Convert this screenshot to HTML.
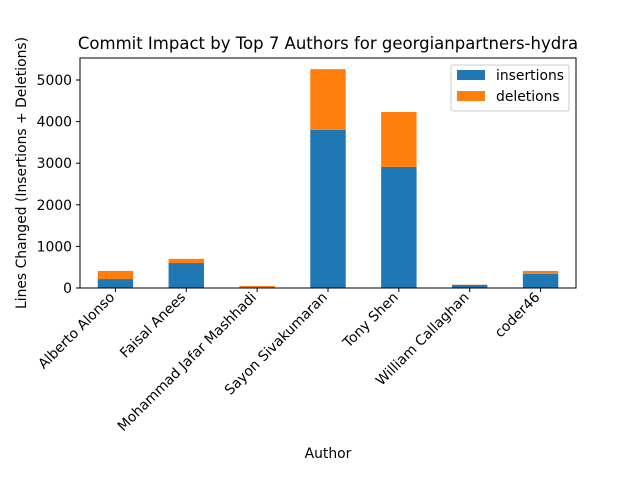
<!DOCTYPE html>
<html><head><meta charset="utf-8"><style>body{margin:0;background:#fff}svg{font-family:"DejaVu Sans","Liberation Sans",sans-serif}</style></head>
<body>
<svg id="c" width="640" height="480" style="position:absolute;left:0;top:0"></svg>
<script>
const categories=["Alberto Alonso","Faisal Anees","Mohammad Jafar Mashhadi","Sayon Sivakumaran","Tony Shen","William Callaghan","coder46"];
const insertions=[215,600,20,3800,2910,75,340];
const deletions=[195,100,30,1460,1320,5,70];
const yTicks=[0,1000,2000,3000,4000,5000];
const NS="http://www.w3.org/2000/svg";
const svg=document.getElementById('c');
const L=80,R=576,T=58,B=288;
const band=(R-L)/categories.length, bw=band*0.5;
const x=i=>L+band*(i+0.5);
const y=v=>B-v*(B-80)/5000;
function el(t,a,p){const e=document.createElementNS(NS,t);for(const k in a)e.setAttribute(k,a[k]);(p||svg).appendChild(e);return e;}
categories.forEach((c,i)=>{
 const r1=el('rect',{x:x(i)-bw/2,y:y(insertions[i]),width:bw,height:B-y(insertions[i]),fill:'#1f77b4'});
 
 
 const r2=el('rect',{x:x(i)-bw/2,y:y(insertions[i]+deletions[i]),width:bw,height:y(insertions[i])-y(insertions[i]+deletions[i]),fill:'#ff7f0e'});
 
 
 el('line',{x1:x(i),x2:x(i),y1:B,y2:B+4,stroke:'#000'});
 const t=el('text',{x:0,y:0,'font-size':13.9,'text-anchor':'end',transform:`translate(${x(i)},${B+10}) rotate(-45)`});
 t.textContent=c;
 
 
});
yTicks.forEach(v=>{
 el('line',{x1:L-4,x2:L,y1:y(v),y2:y(v),stroke:'#000'});
 const t=el('text',{x:L-8,y:y(v)+5,'font-size':13.9,'text-anchor':'end'});
 t.textContent=v;
 
 
});
el('rect',{x:L,y:T,width:R-L,height:B-T,fill:'none',stroke:'#000','stroke-width':1});
</script>
<svg width="640" height="480" style="position:absolute;left:0;top:0">
<text x="328" y="49" font-size="16.5" text-anchor="middle">Commit Impact by Top 7 Authors for georgianpartners-hydra</text>
<text x="328" y="458" font-size="13.9" text-anchor="middle">Author</text>
<text transform="translate(26,173) rotate(-90)" font-size="13.9" text-anchor="middle">Lines Changed (Insertions + Deletions)</text>
<g>
<rect x="451" y="65" width="118" height="46" fill="#fff" stroke="#ccc" rx="2"/>
<rect x="457" y="70" width="28" height="10" fill="#1f77b4"/>
<text x="496" y="80" font-size="13.9">insertions</text>
<rect x="457" y="91" width="28" height="10" fill="#ff7f0e"/>
<text x="496" y="101" font-size="13.9">deletions</text>
</g>
</svg>
</body></html>
